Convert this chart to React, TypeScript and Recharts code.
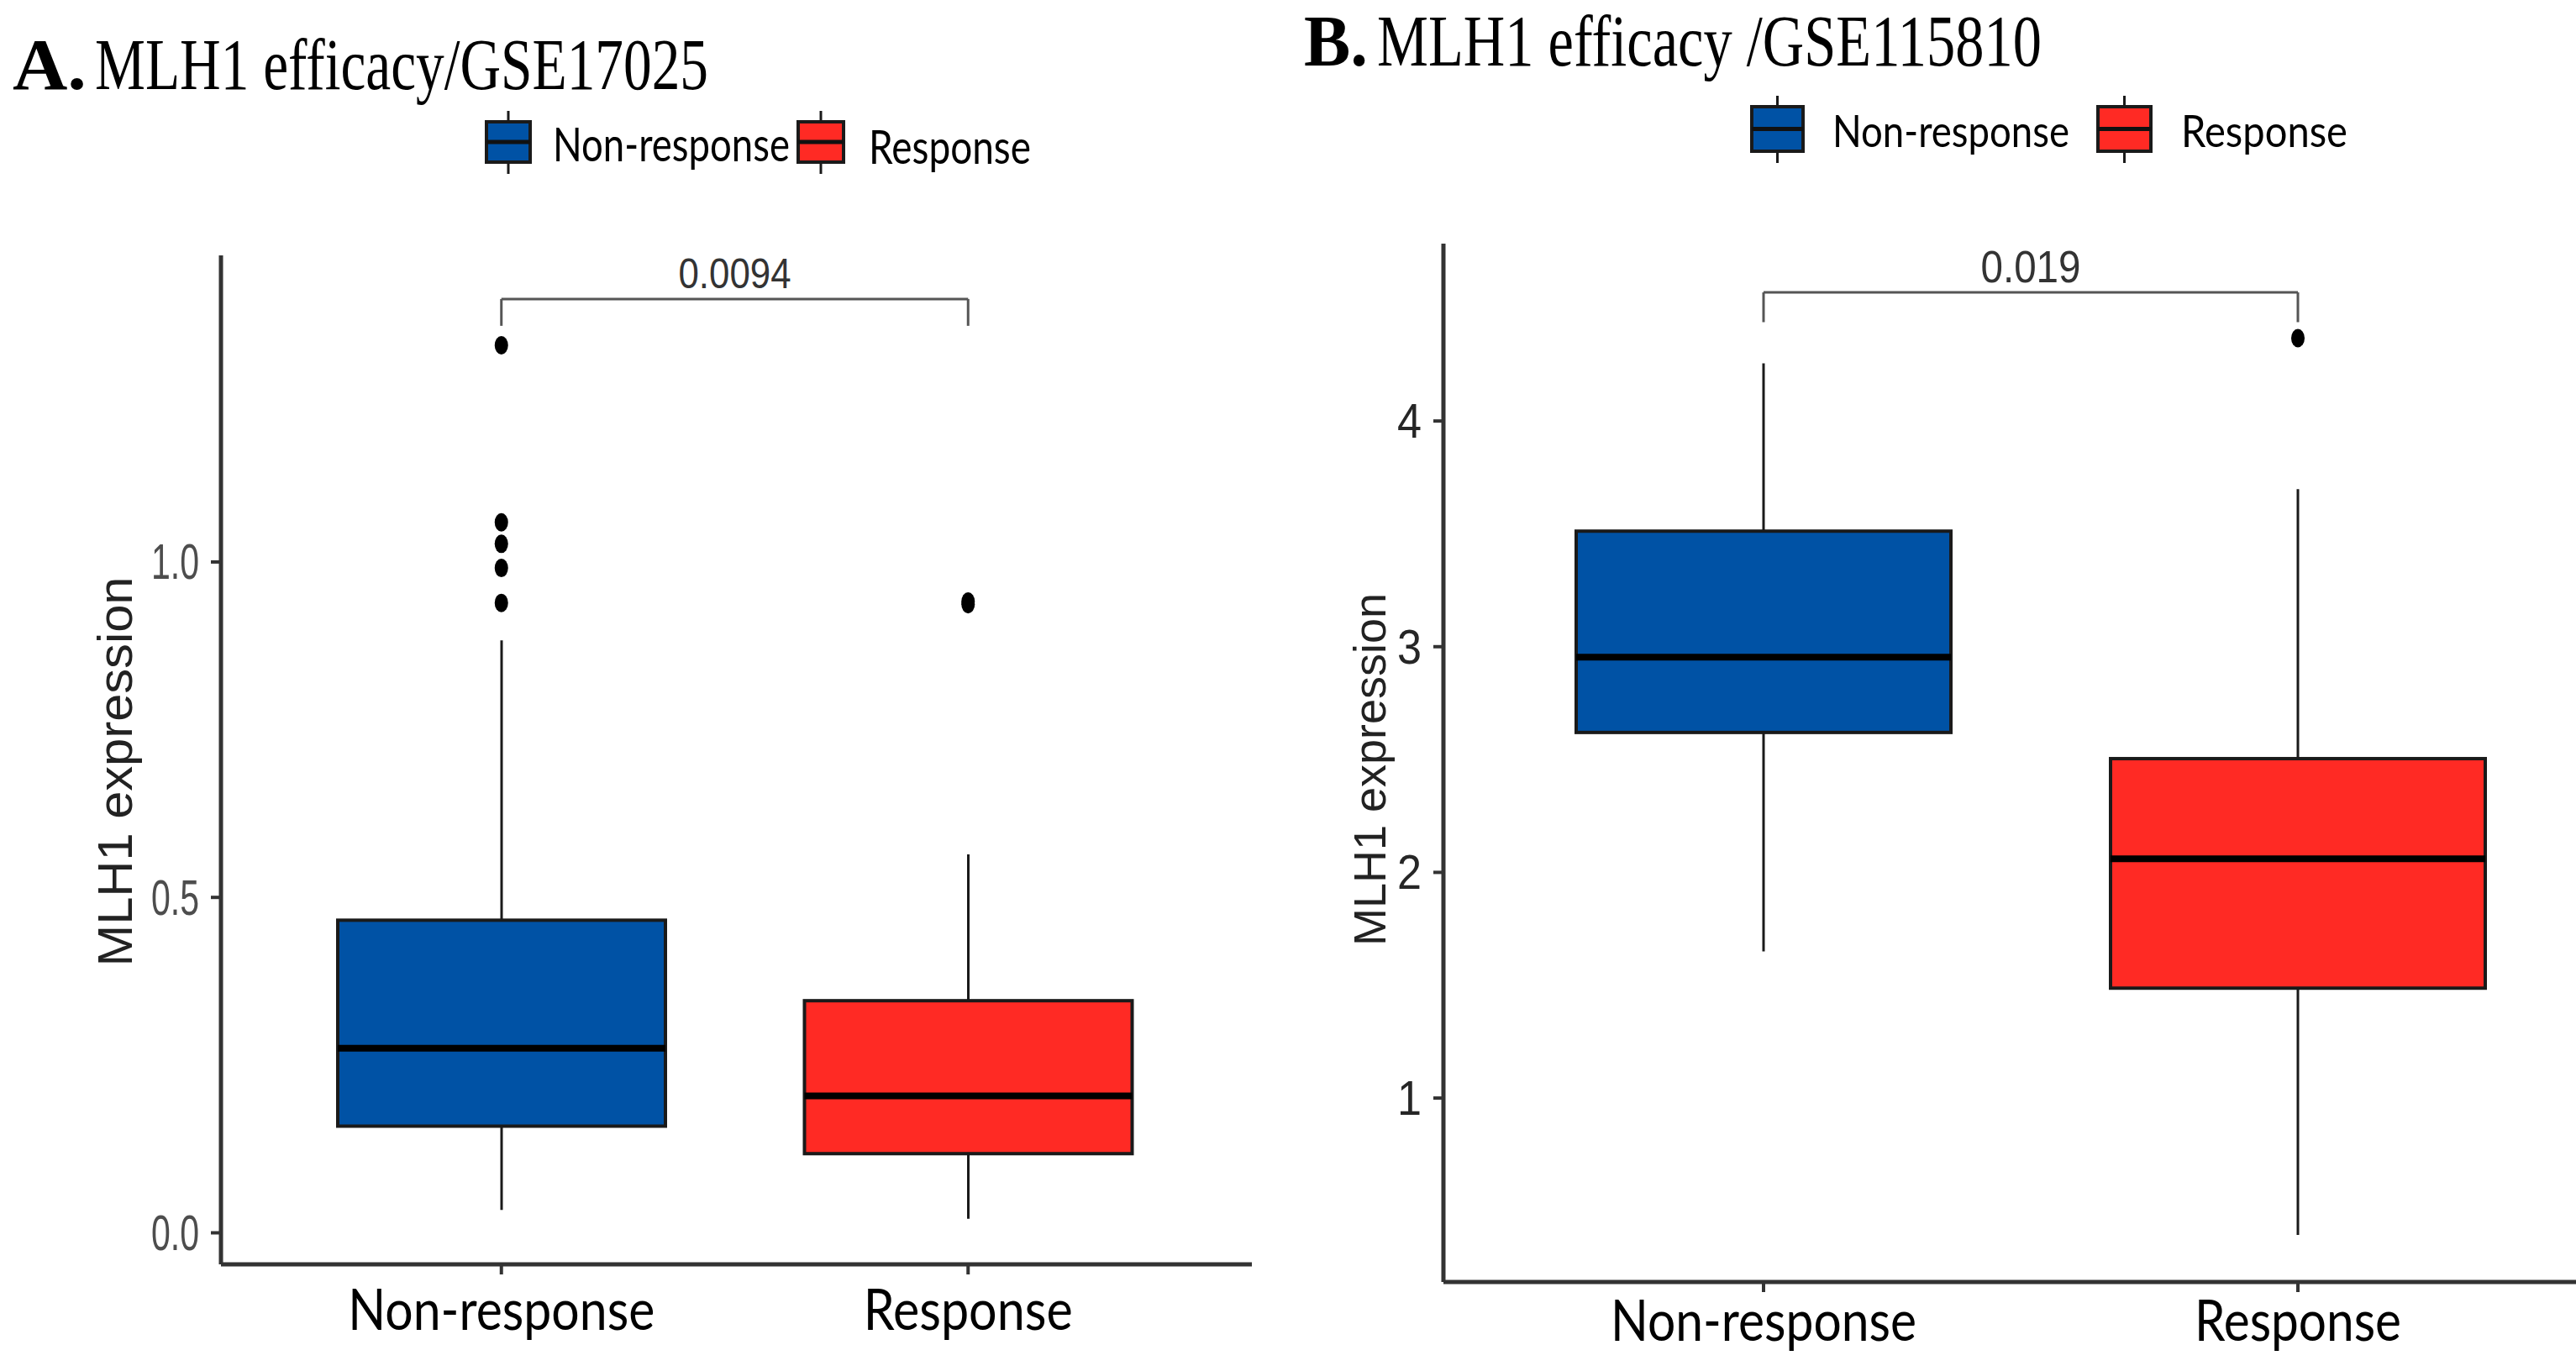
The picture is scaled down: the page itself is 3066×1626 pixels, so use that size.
import React from "react";
import {
  ComposedChart,
  Bar,
  Scatter,
  XAxis,
  YAxis,
  ReferenceLine,
  Legend,
} from "recharts";

const GROUPS = ["Non-response", "Response"];
const COLORS = ["#0052A5", "#FF2A24"];

// A. GSE17025
const A_LOW = [0.034, 0.021];
const A_Q1 = [0.159, 0.118];
const A_MEDIAN = [0.275, 0.204];
const A_Q3 = [0.466, 0.346];
const A_HIGH = [0.883, 0.564];
const A_OUT_NR = [1.323, 1.059, 1.027, 0.991, 0.939];
const A_OUT_R = [0.937, 0.941];
const A_TICKS = [0, 0.5, 1.0];
const A_DOMAIN = [-0.047, 1.457];
const A_BRACKET = [1.392, 1.352];
const A_P = "0.0094";

// B. GSE115810
const B_LOW = [1.65, 0.393];
const B_Q1 = [2.62, 1.487];
const B_MEDIAN = [2.954, 2.06];
const B_Q3 = [3.512, 2.504];
const B_HIGH = [4.256, 3.698];
const B_OUT_NR: number[] = [];
const B_OUT_R = [4.367];
const B_TICKS = [1, 2, 3, 4];
const B_DOMAIN = [0.185, 4.786];
const B_BRACKET = [4.57, 4.438];
const B_P = "0.019";

const SANS = "'Liberation Sans', Arial, sans-serif";
const LABEL_FONT = "Lato, 'Open Sans', sans-serif";
const SERIF = "'Liberation Serif', 'Times New Roman', serif";
const AXIS_COLOR = "#333";

function buildRows(low, q1, med, q3, high) {
  return GROUPS.map((g, i) => ({
    group: g,
    range: [low[i], high[i]],
    q1: q1[i],
    median: med[i],
    q3: q3[i],
  }));
}

function buildOutliers(nr, r) {
  return [
    ...nr.map((v) => ({ group: GROUPS[0], value: v })),
    ...r.map((v) => ({ group: GROUPS[1], value: v })),
  ];
}

// draws whiskers + box + median from the bar geometry of [low, high]
function BoxShape(props: any) {
  const { x, y, width, height, payload, index } = props;
  const [lo, hi] = payload.range;
  const top = Math.min(y, y + height);
  const h = Math.abs(height);
  const k = h / (hi - lo);
  const py = (v: number) => top + (hi - v) * k;
  const cx = x + width / 2;
  return (
    <g>
      <line x1={cx} x2={cx} y1={top} y2={top + h} stroke="#1a1a1a" strokeWidth={3} />
      <rect
        x={x}
        y={py(payload.q3)}
        width={width}
        height={py(payload.q1) - py(payload.q3)}
        fill={COLORS[index]}
        stroke="#1a1a1a"
        strokeWidth={4}
      />
      <line
        x1={x}
        x2={x + width}
        y1={py(payload.median)}
        y2={py(payload.median)}
        stroke="#000"
        strokeWidth={8}
      />
    </g>
  );
}

function LegendBox({ x, w, top, h, color }) {
  const cx = x + w / 2;
  return (
    <g>
      <line x1={cx} x2={cx} y1={top - 13} y2={top + h + 14} stroke="#1a1a1a" strokeWidth={3} />
      <rect x={x} y={top} width={w} height={h} fill={color} stroke="#1a1a1a" strokeWidth={4} />
      <line x1={x} x2={x + w} y1={top + h / 2} y2={top + h / 2} stroke="#111" strokeWidth={5} />
    </g>
  );
}

const PANEL_A = {
  left: 0,
  width: 1533,
  margin: { top: 304, right: 43, bottom: 21, left: 143 },
  yAxisWidth: 120,
  xAxisHeight: 100,
  xPadding: { left: 56, right: 60 },
  barSize: 390,
  yTick: { size: 60, len: 57, fill: "#4d4d4d" },
  xTick: { dy: 66, len: { "Non-response": 365, Response: 249 } },
  yLabel: { dx: -127, dy: 14, size: 58, len: 464 },
  pLabel: { size: 50, len: 134, gap: 13 },
  legend: {
    font: 56,
    items: [
      { x: 579, w: 52, top: 145, h: 48, tx: 658, base: 192, len: 282 },
      { x: 950, w: 54, top: 145, h: 48, tx: 1034, base: 195, len: 193 },
    ],
  },
};

const PANEL_B = {
  left: 1533,
  width: 1533,
  margin: { top: 290, right: 0, bottom: 20, left: 85 },
  yAxisWidth: 100,
  xAxisHeight: 80,
  xPadding: { left: 63, right: 13 },
  barSize: 446,
  yTick: { size: 57, len: 29, fill: "#262626" },
  xTick: { dy: 58, len: { "Non-response": 364, Response: 246 } },
  yLabel: { dx: -88, dy: 8, size: 54, len: 420 },
  pLabel: { size: 53, len: 119, gap: 12 },
  legend: {
    font: 53,
    items: [
      { x: 552, w: 61, top: 127, h: 53, tx: 648, base: 175, len: 282 },
      { x: 964, w: 63, top: 127, h: 53, tx: 1063, base: 175, len: 198 },
    ],
  },
};

function Panel({ cfg, rows, outliers, ticks, domain, bracket, pValue }) {
  const [by, tip] = bracket;
  return (
    <div style={{ position: "absolute", left: cfg.left, top: 0 }}>
      <ComposedChart width={cfg.width} height={1626} data={rows} margin={cfg.margin}>
        <XAxis
          dataKey="group"
          type="category"
          allowDuplicatedCategory={false}
          height={cfg.xAxisHeight}
          padding={cfg.xPadding}
          axisLine={{ stroke: AXIS_COLOR, strokeWidth: 5 }}
          tickLine={{ stroke: AXIS_COLOR, strokeWidth: 4 }}
          tickSize={12}
          tickMargin={0}
          tick={(p: any) => (
            <text
              x={p.x}
              y={p.y + cfg.xTick.dy}
              textAnchor="middle"
              fontFamily={LABEL_FONT}
              fontSize={68}
              fill="#000"
              textLength={cfg.xTick.len[p.payload.value]}
              lengthAdjust="spacingAndGlyphs"
            >
              {p.payload.value}
            </text>
          )}
        />
        <YAxis
          type="number"
          domain={domain}
          allowDataOverflow
          ticks={ticks}
          width={cfg.yAxisWidth}
          axisLine={{ stroke: AXIS_COLOR, strokeWidth: 5 }}
          tickLine={{ stroke: AXIS_COLOR, strokeWidth: 4 }}
          tickSize={12}
          tickMargin={14}
          tick={(p: any) => {
            const v = Number(p.payload.value);
            const txt = ticks.every(Number.isInteger) ? String(v) : v.toFixed(1);
            return (
              <text
                x={p.x}
                y={p.y}
                textAnchor="end"
                dominantBaseline="central"
                fontFamily={SANS}
                fontSize={cfg.yTick.size}
                fill={cfg.yTick.fill}
                textLength={cfg.yTick.len}
                lengthAdjust="spacingAndGlyphs"
              >
                {txt}
              </text>
            );
          }}
          label={(p: any) => {
            const vb = p.viewBox;
            const cx = vb.x + vb.width + cfg.yLabel.dx;
            const cy = vb.y + vb.height / 2 + cfg.yLabel.dy;
            return (
              <text
                x={cx}
                y={cy}
                transform={`rotate(-90 ${cx} ${cy})`}
                textAnchor="middle"
                dominantBaseline="central"
                fontFamily={SANS}
                fontSize={cfg.yLabel.size}
                fill="#222"
                textLength={cfg.yLabel.len}
                lengthAdjust="spacingAndGlyphs"
              >
                MLH1 expression
              </text>
            );
          }}
        />
        <Legend
          layout="horizontal"
          align="center"
          verticalAlign="middle"
          wrapperStyle={{ left: 0, top: 100, width: cfg.width, height: 130, margin: 0 }}
          content={() => (
            <svg width={cfg.width} height={130} viewBox={`0 100 ${cfg.width} 130`} style={{ display: "block" }}>
              {GROUPS.map((g, i) => {
                const it = cfg.legend.items[i];
                return (
                  <g key={g}>
                    <LegendBox x={it.x} w={it.w} top={it.top} h={it.h} color={COLORS[i]} />
                    <text
                      x={it.tx}
                      y={it.base}
                      fontFamily={LABEL_FONT}
                      fontSize={cfg.legend.font}
                      fill="#000"
                      textLength={it.len}
                      lengthAdjust="spacingAndGlyphs"
                    >
                      {g}
                    </text>
                  </g>
                );
              })}
            </svg>
          )}
        />
        <Bar
          dataKey="range"
          barSize={cfg.barSize}
          shape={(p: any) => <BoxShape {...p} />}
          isAnimationActive={false}
        />
        <Scatter
          data={outliers}
          dataKey="value"
          isAnimationActive={false}
          shape={(p: any) => <ellipse cx={p.cx} cy={p.cy} rx={8} ry={11} fill="#000" />}
        />
        <ReferenceLine
          segment={[
            { x: GROUPS[0], y: by },
            { x: GROUPS[1], y: by },
          ]}
          stroke="#555"
          strokeWidth={3}
          label={(p: any) => {
            const vb = p.viewBox || {};
            const x0 = vb.x ?? vb.x1;
            const w = vb.width ?? vb.x2 - vb.x1;
            const y0 = vb.y ?? vb.y1;
            return (
              <text
                x={x0 + w / 2}
                y={y0 - cfg.pLabel.gap}
                textAnchor="middle"
                fontFamily={SANS}
                fontSize={cfg.pLabel.size}
                fill="#333"
                textLength={cfg.pLabel.len}
                lengthAdjust="spacingAndGlyphs"
              >
                {pValue}
              </text>
            );
          }}
        />
        <ReferenceLine
          segment={[
            { x: GROUPS[0], y: by },
            { x: GROUPS[0], y: tip },
          ]}
          stroke="#555"
          strokeWidth={3}
        />
        <ReferenceLine
          segment={[
            { x: GROUPS[1], y: by },
            { x: GROUPS[1], y: tip },
          ]}
          stroke="#555"
          strokeWidth={3}
        />
      </ComposedChart>
    </div>
  );
}

export default function App() {
  return (
    <div
      style={{
        position: "absolute",
        left: 0,
        top: 0,
        width: 3066,
        height: 1626,
        background: "#fff",
        overflow: "hidden",
      }}
    >
      <Panel
        cfg={PANEL_A}
        rows={buildRows(A_LOW, A_Q1, A_MEDIAN, A_Q3, A_HIGH)}
        outliers={buildOutliers(A_OUT_NR, A_OUT_R)}
        ticks={A_TICKS}
        domain={A_DOMAIN}
        bracket={A_BRACKET}
        pValue={A_P}
      />
      <Panel
        cfg={PANEL_B}
        rows={buildRows(B_LOW, B_Q1, B_MEDIAN, B_Q3, B_HIGH)}
        outliers={buildOutliers(B_OUT_NR, B_OUT_R)}
        ticks={B_TICKS}
        domain={B_DOMAIN}
        bracket={B_BRACKET}
        pValue={B_P}
      />
      <svg
        width={3066}
        height={130}
        style={{ position: "absolute", left: 0, top: 0, pointerEvents: "none" }}
      >
        <text x={15} y={106} fontFamily={SERIF} fontSize={86} fontWeight="bold" fill="#000"
          textLength={88} lengthAdjust="spacingAndGlyphs">
          A.
        </text>
        <text x={113} y={106} fontFamily={SERIF} fontSize={86} fill="#000"
          textLength={730} lengthAdjust="spacingAndGlyphs">
          MLH1 efficacy/GSE17025
        </text>
        <text x={1552} y={78} fontFamily={SERIF} fontSize={86} fontWeight="bold" fill="#000"
          textLength={76} lengthAdjust="spacingAndGlyphs">
          B.
        </text>
        <text x={1639} y={78} fontFamily={SERIF} fontSize={86} fill="#000"
          textLength={791} lengthAdjust="spacingAndGlyphs">
          MLH1 efficacy /GSE115810
        </text>
      </svg>
    </div>
  );
}
